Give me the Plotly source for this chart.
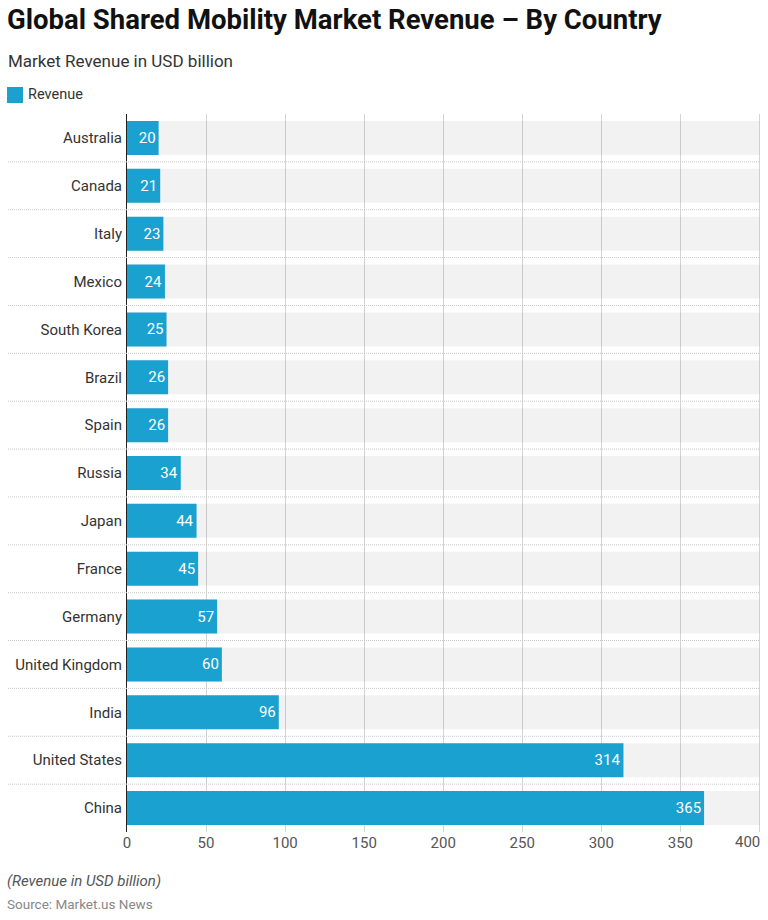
import plotly.graph_objects as go

countries = ["Australia", "Canada", "Italy", "Mexico", "South Korea", "Brazil", "Spain",
             "Russia", "Japan", "France", "Germany", "United Kingdom", "India",
             "United States", "China"]
revenue = [20, 21, 23, 24, 25, 26, 26, 34, 44, 45, 57, 60, 96, 314, 365]
series_name = "Revenue"
axis_max = 400
tick_vals = [0, 50, 100, 150, 200, 250, 300, 350, 400]
tick_labels = ["0", "50", "100", "150", "200", "250", "300", "350", "400"]

W, H = 768, 920
L, R, T, B = 127, 7, 114, 88
pw, ph = W - L - R, H - T - B

def px_x(p):
    return (p - L) / pw

def px_y(p):
    return (H - B - p) / ph

BLUE = "#1aa1cf"
FONT = "Roboto"
TICKFONT = dict(size=15, color="#555", family=FONT)

fig = go.Figure()
fig.add_trace(go.Bar(
    y=countries, x=[axis_max] * len(countries), orientation="h",
    marker=dict(color="rgba(0,0,0,0.05)", line=dict(width=0)),
    width=0.71, showlegend=False, hoverinfo="skip",
))
fig.add_trace(go.Bar(
    y=countries, x=revenue, orientation="h", name=series_name,
    marker=dict(color=BLUE, line=dict(width=0)),
    width=0.71, text=revenue, textposition="inside", insidetextanchor="end",
    textfont=dict(color="white", size=15, family=FONT),
    showlegend=False,
))

shapes = []
for i in range(len(countries) - 1):
    shapes.append(dict(type="line", xref="paper", yref="y",
                       x0=px_x(8), x1=px_x(760), y0=i + 0.5, y1=i + 0.5,
                       line=dict(color="#c8c8c8", width=1, dash="1px,1px"), layer="above"))
# legend swatch
shapes.append(dict(type="rect", xref="paper", yref="paper",
                   x0=px_x(7), x1=px_x(23), y0=px_y(103), y1=px_y(87),
                   fillcolor=BLUE, line=dict(width=0)))

annotations = [
    dict(text="Market Revenue in USD billion", xref="paper", yref="paper",
         x=px_x(6), y=px_y(61), xanchor="left", yanchor="middle", showarrow=False,
         font=dict(size=17, color="#333", family=FONT)),
    dict(text=series_name, xref="paper", yref="paper",
         x=px_x(26), y=px_y(95), xanchor="left", yanchor="middle", showarrow=False,
         font=dict(size=14.5, color="#333", family=FONT)),
    dict(text="<i>(Revenue in USD billion)</i>", xref="paper", yref="paper",
         x=px_x(5), y=px_y(881), xanchor="left", yanchor="middle", showarrow=False,
         font=dict(size=15, color="#555", family=FONT)),
    dict(text="Source: Market.us News", xref="paper", yref="paper",
         x=px_x(5), y=px_y(904), xanchor="left", yanchor="middle", showarrow=False,
         font=dict(size=13.5, color="#888", family=FONT)),
    # last tick label kept inside the page, right-aligned to its gridline
    dict(text=tick_labels[-1], xref="x", yref="paper",
         x=tick_vals[-1], y=px_y(842), xanchor="right", yanchor="middle",
         xshift=3, showarrow=False, font=TICKFONT),
]

fig.update_layout(
    width=W, height=H,
    margin=dict(l=L, r=R, t=T, b=B, autoexpand=False),
    paper_bgcolor="white", plot_bgcolor="white",
    barmode="overlay",
    font=dict(family=FONT, color="#333"),
    title=dict(text="<b>Global Shared Mobility Market Revenue – By Country</b>",
               xref="container", yref="container", x=7 / W, xanchor="left",
               y=1 - 10 / H, yanchor="top",
               font=dict(size=27.5, color="#111", family=FONT)),
    showlegend=False,
    xaxis=dict(range=[0, axis_max + 1], tickvals=tick_vals,
               ticktext=tick_labels[:-1] + [""],
               showgrid=True, gridcolor="#d4d4d4", gridwidth=1,
               zeroline=False, showline=False, ticks="",
               tickfont=TICKFONT,
               fixedrange=True, automargin=False),
    yaxis=dict(categoryorder="array", categoryarray=countries, autorange="reversed",
               showgrid=False, zeroline=False, showline=True, linecolor="#222", linewidth=1,
               ticks="", ticklabelstandoff=1,
               tickfont=dict(size=15, color="#333", family=FONT),
               fixedrange=True, automargin=False),
    shapes=shapes,
    annotations=annotations,
)

fig.write_html("out.html", config={"displayModeBar": False},
               post_script="document.body.style.margin='0';document.body.style.overflow='hidden';")
